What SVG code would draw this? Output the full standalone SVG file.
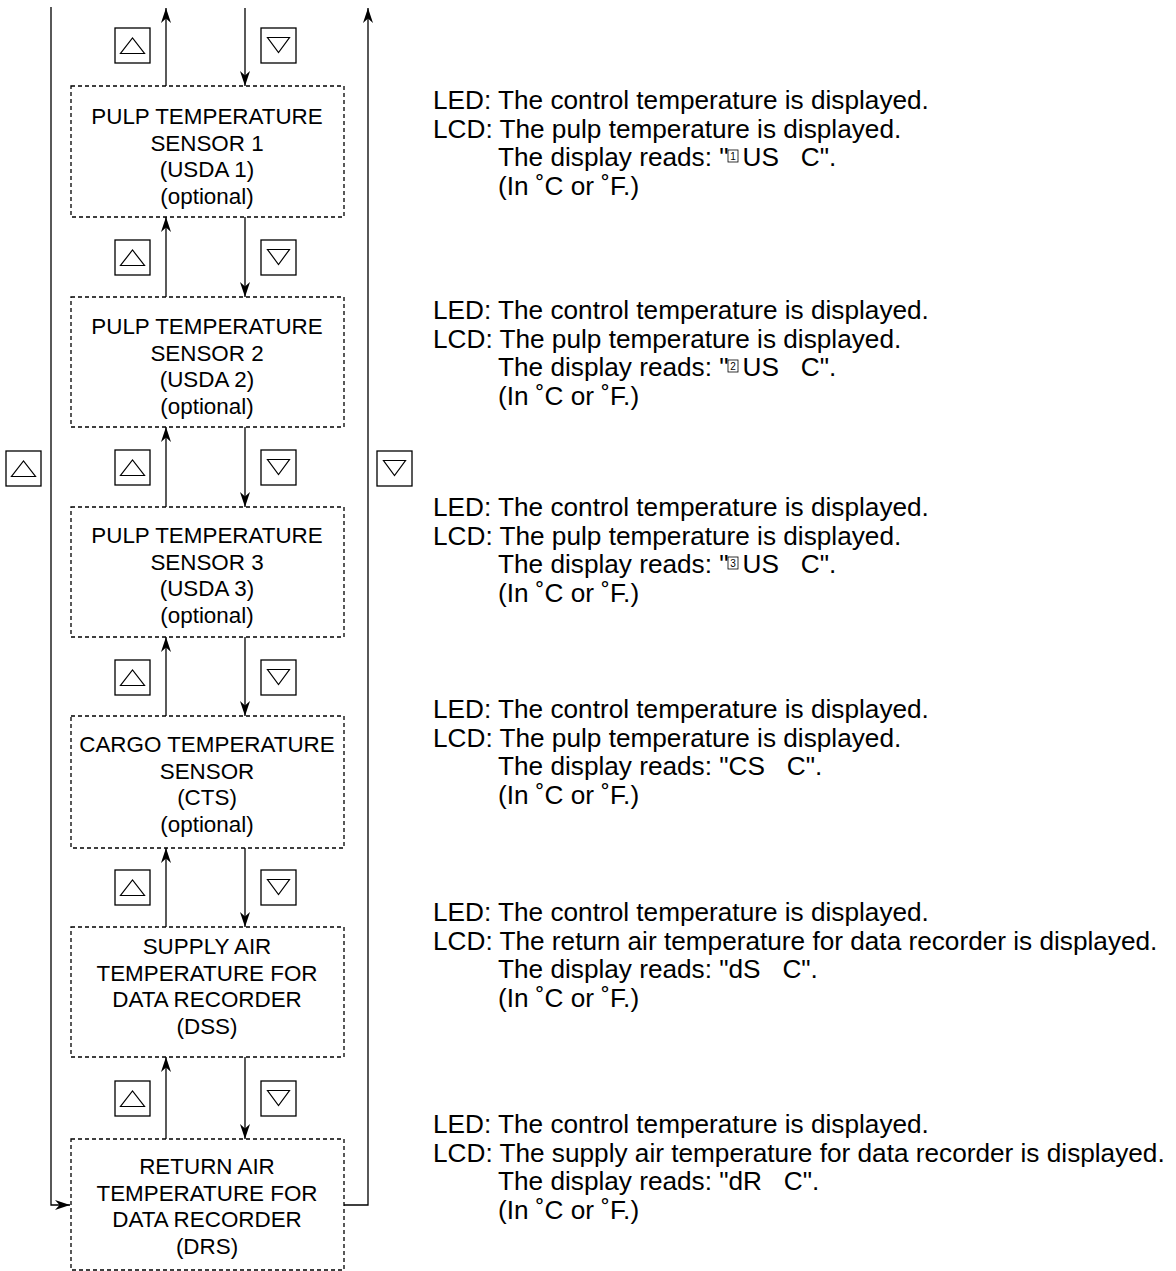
<svg xmlns="http://www.w3.org/2000/svg" width="1176" height="1271" viewBox="0 0 1176 1271">
<style>
.bg{fill:#fff}
.box{fill:none;stroke:#000;stroke-width:1.3;stroke-dasharray:4 3}
.btn{fill:#fff;stroke:#000;stroke-width:1.3}
.tri{fill:none;stroke:#000;stroke-width:1.2;stroke-linejoin:miter}
.ln{fill:none;stroke:#000;stroke-width:1.3}
.bt{font-family:"Liberation Sans",Arial,Helvetica,sans-serif;font-size:22.4px;fill:#000;text-anchor:middle}
.rt{font-family:"Liberation Sans",Arial,Helvetica,sans-serif;font-size:26.2px;fill:#000;white-space:pre}
.dg{font-family:"Liberation Sans",Arial,sans-serif;font-size:10px;fill:#000;text-anchor:middle}
.dgb{fill:none;stroke:#000;stroke-width:0.8}
</style>
<defs>
<marker id="ah" viewBox="-16 -6 17 12" refX="0" refY="0" markerWidth="17" markerHeight="12" markerUnits="userSpaceOnUse" orient="auto">
<path d="M0,0 L-15,-5 L-10.5,0 L-15,5 Z" fill="#000"/>
</marker>
<g id="up"><rect class="btn" x="0" y="0" width="35" height="35"/><path class="tri" d="M5.5,25.5 L29.5,25.5 L17.5,10 Z"/></g>
<g id="dn"><rect class="btn" x="0" y="0" width="35" height="35"/><path class="tri" d="M6.5,9.5 L28.5,9.5 L17.5,24.5 Z"/></g>
</defs>
<rect class="bg" x="0" y="0" width="1176" height="1271"/>

<g id="connectors">
<path class="ln" d="M51,7 L51,1205 L70,1205" marker-end="url(#ah)"/>
<path class="ln" d="M344,1205 L368,1205 L368,8" marker-end="url(#ah)"/>
<path class="ln" d="M166,86 L166,8" marker-end="url(#ah)"/>
<path class="ln" d="M245,8 L245,86" marker-end="url(#ah)"/>
<path class="ln" d="M166,297 L166,217" marker-end="url(#ah)"/>
<path class="ln" d="M245,217 L245,297" marker-end="url(#ah)"/>
<path class="ln" d="M166,507 L166,427" marker-end="url(#ah)"/>
<path class="ln" d="M245,427 L245,507" marker-end="url(#ah)"/>
<path class="ln" d="M166,716 L166,637" marker-end="url(#ah)"/>
<path class="ln" d="M245,637 L245,716" marker-end="url(#ah)"/>
<path class="ln" d="M166,927 L166,848" marker-end="url(#ah)"/>
<path class="ln" d="M245,848 L245,927" marker-end="url(#ah)"/>
<path class="ln" d="M166,1139 L166,1057" marker-end="url(#ah)"/>
<path class="ln" d="M245,1057 L245,1139" marker-end="url(#ah)"/>
</g>

<g id="buttons">
<use href="#up" x="115" y="28"/><use href="#dn" x="261" y="28"/>
<use href="#up" x="115" y="240"/><use href="#dn" x="261" y="240"/>
<use href="#up" x="115" y="450"/><use href="#dn" x="261" y="450"/>
<use href="#up" x="115" y="660"/><use href="#dn" x="261" y="660"/>
<use href="#up" x="115" y="870"/><use href="#dn" x="261" y="870"/>
<use href="#up" x="115" y="1081"/><use href="#dn" x="261" y="1081"/>
<use href="#up" x="6" y="451"/><use href="#dn" x="377" y="451"/>
</g>

<g id="node1">
<rect class="box" x="71" y="86" width="273" height="131"/>
<text class="bt"><tspan x="207" y="124">PULP TEMPERATURE</tspan><tspan x="207" y="150.5">SENSOR 1</tspan><tspan x="207" y="177">(USDA 1)</tspan><tspan x="207" y="203.5">(optional)</tspan></text>
</g>
<g id="node2">
<rect class="box" x="71" y="297" width="273" height="130"/>
<text class="bt"><tspan x="207" y="334">PULP TEMPERATURE</tspan><tspan x="207" y="360.5">SENSOR 2</tspan><tspan x="207" y="387">(USDA 2)</tspan><tspan x="207" y="413.5">(optional)</tspan></text>
</g>
<g id="node3">
<rect class="box" x="71" y="507" width="273" height="130"/>
<text class="bt"><tspan x="207" y="543">PULP TEMPERATURE</tspan><tspan x="207" y="569.5">SENSOR 3</tspan><tspan x="207" y="596">(USDA 3)</tspan><tspan x="207" y="622.5">(optional)</tspan></text>
</g>
<g id="node4">
<rect class="box" x="71" y="716" width="273" height="132"/>
<text class="bt"><tspan x="207" y="752">CARGO TEMPERATURE</tspan><tspan x="207" y="778.5">SENSOR</tspan><tspan x="207" y="805">(CTS)</tspan><tspan x="207" y="831.5">(optional)</tspan></text>
</g>
<g id="node5">
<rect class="box" x="71" y="927" width="273" height="130"/>
<text class="bt"><tspan x="207" y="954">SUPPLY AIR</tspan><tspan x="207" y="980.5">TEMPERATURE FOR</tspan><tspan x="207" y="1007">DATA RECORDER</tspan><tspan x="207" y="1033.5">(DSS)</tspan></text>
</g>
<g id="node6">
<rect class="box" x="71" y="1139" width="273" height="131"/>
<text class="bt"><tspan x="207" y="1174">RETURN AIR</tspan><tspan x="207" y="1200.5">TEMPERATURE FOR</tspan><tspan x="207" y="1227">DATA RECORDER</tspan><tspan x="207" y="1253.5">(DRS)</tspan></text>
</g>

<g id="desc1">
<text class="rt"><tspan x="433" y="109">LED: The control temperature is displayed.</tspan><tspan x="433" y="137.5">LCD: The pulp temperature is displayed.</tspan><tspan x="498" y="166">The display reads: "<tspan dx="14">US   C".</tspan></tspan><tspan x="498" y="194.5">(In ˚C or ˚F.)</tspan></text>
</g>
<g id="desc2">
<text class="rt"><tspan x="433" y="319">LED: The control temperature is displayed.</tspan><tspan x="433" y="347.5">LCD: The pulp temperature is displayed.</tspan><tspan x="498" y="376">The display reads: "<tspan dx="14">US   C".</tspan></tspan><tspan x="498" y="404.5">(In ˚C or ˚F.)</tspan></text>
</g>
<g id="desc3">
<text class="rt"><tspan x="433" y="516">LED: The control temperature is displayed.</tspan><tspan x="433" y="544.5">LCD: The pulp temperature is displayed.</tspan><tspan x="498" y="573">The display reads: "<tspan dx="14">US   C".</tspan></tspan><tspan x="498" y="601.5">(In ˚C or ˚F.)</tspan></text>
</g>
<g id="desc4">
<text class="rt"><tspan x="433" y="718">LED: The control temperature is displayed.</tspan><tspan x="433" y="746.5">LCD: The pulp temperature is displayed.</tspan><tspan x="498" y="775">The display reads: "CS   C".</tspan><tspan x="498" y="803.5">(In ˚C or ˚F.)</tspan></text>
</g>
<g id="desc5">
<text class="rt"><tspan x="433" y="921">LED: The control temperature is displayed.</tspan><tspan x="433" y="949.5">LCD: The return air temperature for data recorder is displayed.</tspan><tspan x="498" y="978">The display reads: "dS   C".</tspan><tspan x="498" y="1006.5">(In ˚C or ˚F.)</tspan></text>
</g>
<g id="desc6">
<text class="rt"><tspan x="433" y="1133">LED: The control temperature is displayed.</tspan><tspan x="433" y="1161.5">LCD: The supply air temperature for data recorder is displayed.</tspan><tspan x="498" y="1190">The display reads: "dR   C".</tspan><tspan x="498" y="1218.5">(In ˚C or ˚F.)</tspan></text>
</g>
<g id="digits">
<rect class="dgb" x="728" y="150" width="10" height="12"/><text class="dg" x="733" y="160">1</text>
<rect class="dgb" x="728" y="360" width="10" height="12"/><text class="dg" x="733" y="370">2</text>
<rect class="dgb" x="728" y="557" width="10" height="12"/><text class="dg" x="733" y="567">3</text>
</g>
</svg>
